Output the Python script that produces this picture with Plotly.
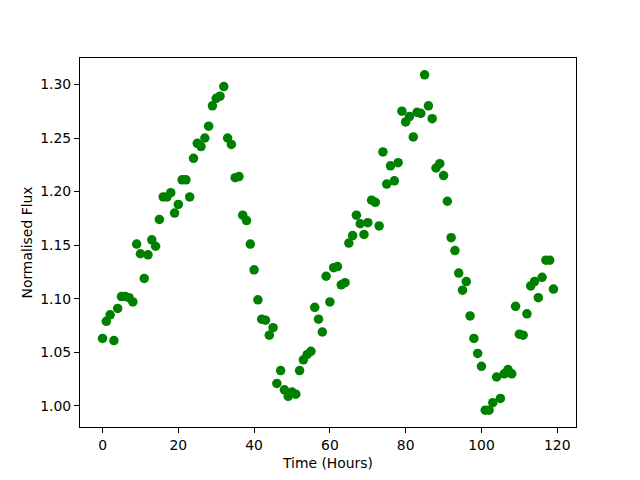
import plotly.graph_objects as go

hours = list(range(120))
flux = [
    1.063, 1.079, 1.085, 1.061, 1.091, 1.102, 1.102, 1.101, 1.097, 1.151,
    1.142, 1.119, 1.141, 1.155, 1.149, 1.174, 1.195, 1.195, 1.199, 1.180,
    1.188, 1.211, 1.211, 1.195, 1.231, 1.245, 1.242, 1.250, 1.261, 1.280,
    1.287, 1.289, 1.298, 1.250, 1.244, 1.213, 1.214, 1.178, 1.173, 1.151,
    1.127, 1.099, 1.081, 1.080, 1.066, 1.073, 1.021, 1.033, 1.015, 1.009,
    1.013, 1.011, 1.033, 1.043, 1.048, 1.051, 1.092, 1.081, 1.069, 1.121,
    1.097, 1.129, 1.130, 1.113, 1.115, 1.152, 1.159, 1.178, 1.170, 1.160,
    1.171, 1.192, 1.190, 1.168, 1.237, 1.207, 1.224, 1.210, 1.227, 1.275,
    1.265, 1.270, 1.251, 1.274, 1.273, 1.309, 1.280, 1.268, 1.222, 1.226,
    1.215, 1.191, 1.157, 1.145, 1.124, 1.108, 1.116, 1.084, 1.063, 1.049,
    1.037, 0.996, 0.996, 1.003, 1.027, 1.007, 1.030, 1.034, 1.030, 1.093,
    1.067, 1.066, 1.086, 1.112, 1.116, 1.101, 1.120, 1.136, 1.136, 1.109,
]
x_ticks = [0, 20, 40, 60, 80, 100, 120]
y_ticks = [1.00, 1.05, 1.10, 1.15, 1.20, 1.25, 1.30]

xmin, xmax = min(hours), max(hours)
ymin, ymax = min(flux), max(flux)
xm = (xmax - xmin) * 0.05
ym = (ymax - ymin) * 0.05

fig = go.Figure(go.Scatter(
    x=hours, y=flux, mode="markers",
    marker=dict(color="#008000", size=9.5, line=dict(width=0)),
))

font = dict(family="DejaVu Sans", size=13.9, color="black")
axis_common = dict(
    showline=True, mirror=True, linecolor="black", linewidth=1,
    ticks="outside", ticklen=5, tickcolor="black", tickwidth=1,
    showgrid=False, zeroline=False, tickfont=font,
)
fig.update_layout(
    width=640, height=480,
    margin=dict(l=72, r=72, t=50, b=61),
    paper_bgcolor="white", plot_bgcolor="white",
    showlegend=False,
    font=font,
    xaxis=dict(range=[xmin - xm, xmax + xm], tickvals=x_ticks,
               ticktext=[str(v) for v in x_ticks],
               title=dict(text="Time (Hours)", font=font, standoff=6), **axis_common),
    yaxis=dict(range=[ymin - ym, ymax + ym], tickvals=y_ticks,
               ticktext=[f"{v:.2f}" for v in y_ticks],
               title=dict(text="Normalised Flux", font=font, standoff=4), **axis_common),
)
fig.write_html("out.html")
